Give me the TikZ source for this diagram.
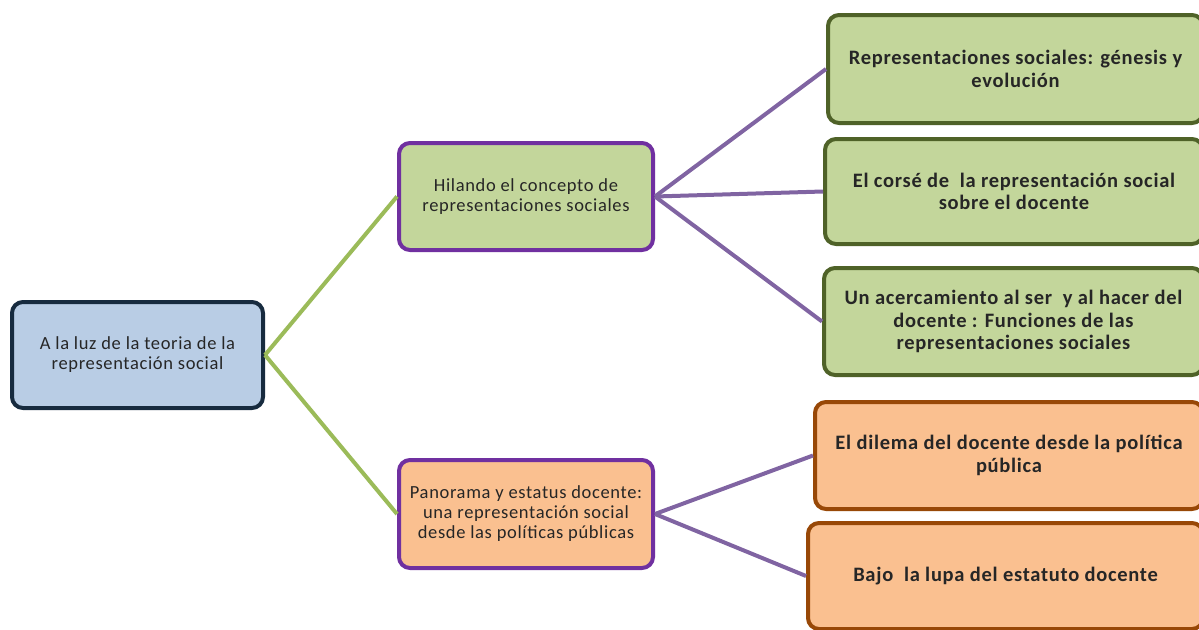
\documentclass[tikz,border=0pt]{standalone}
\usepackage{fontspec}
\setmainfont[LetterSpace=3.5]{Carlito}
\definecolor{rootfill}{HTML}{B9CDE5}
\definecolor{rootline}{HTML}{172B3F}
\definecolor{leaffill}{HTML}{C3D69B}
\definecolor{leafline}{HTML}{4F6228}
\definecolor{orfill}{HTML}{FAC090}
\definecolor{orline}{HTML}{984807}
\definecolor{midline}{HTML}{7030A0}
\definecolor{greenlink}{HTML}{9BBB59}
\definecolor{purplelink}{HTML}{8064A2}
\tikzset{
  box/.style={draw, line width=4pt, rounded corners=11pt, align=center,
    inner sep=0pt, text=black!85},
  rootbox/.style={box, fill=rootfill, draw=rootline,
    font=\fontsize{18.5}{20}\selectfont},
  midbox/.style={box, draw=midline, font=\fontsize{18.5}{20}\selectfont},
  leafbox/.style={box, font=\bfseries\fontsize{20.5}{22.5}\selectfont},
  greenlink/.style={draw=greenlink, line width=4pt},
  purplelink/.style={draw=purplelink, line width=4pt},
}
\begin{document}
\begin{tikzpicture}[x=1pt,y=-1pt]
  \useasboundingbox (0,0) rectangle (1199,629);
  \clip (0,0) rectangle (1199,629);

  \node (root) [rootbox, minimum width=251pt, minimum height=106pt]
    at (137.5,355) {A la luz de la teoria de la\\representación social};

  \node (hil) [midbox, fill=leaffill, minimum width=254pt, minimum height=107pt]
    at (526,196.5) {Hilando el concepto de\\representaciones sociales};
  \node (pan) [midbox, fill=orfill, minimum width=254pt, minimum height=108pt]
    at (526,514) {Panorama y estatus docente:\\una representación social\\desde las políticas públicas};

  \node (gen) [leafbox, fill=leaffill, draw=leafline, minimum width=375pt, minimum height=108pt]
    at (1015.5,69) {Representaciones sociales: génesis y\\evolución};
  \node (cor) [leafbox, fill=leaffill, draw=leafline, minimum width=378pt, minimum height=105pt]
    at (1014,191.5) {El corsé de\ \ la representación social\\sobre el docente};
  \node (ser) [leafbox, fill=leaffill, draw=leafline, minimum width=379pt, minimum height=107pt]
    at (1013.5,321.5) {Un acercamiento al ser\ \ y al hacer del\\docente : Funciones de las\\representaciones sociales};
  \node (dil) [leafbox, fill=orfill, draw=orline, minimum width=388pt, minimum height=107pt]
    at (1009,455.5) {El dilema del docente desde la política\\pública};
  \node (lup) [leafbox, fill=orfill, draw=orline, minimum width=395pt, minimum height=106pt]
    at (1005.5,576) {Bajo\ \ la lupa del estatuto docente};

  \draw [greenlink] (root.east) -- (hil.west);
  \draw [greenlink] (root.east) -- (pan.west);
  \draw [purplelink] (hil.east) -- (gen.west);
  \draw [purplelink] (hil.east) -- (cor.west);
  \draw [purplelink] (hil.east) -- (ser.west);
  \draw [purplelink] (pan.east) -- (dil.west);
  \draw [purplelink] (pan.east) -- (lup.west);
\end{tikzpicture}
\end{document}
